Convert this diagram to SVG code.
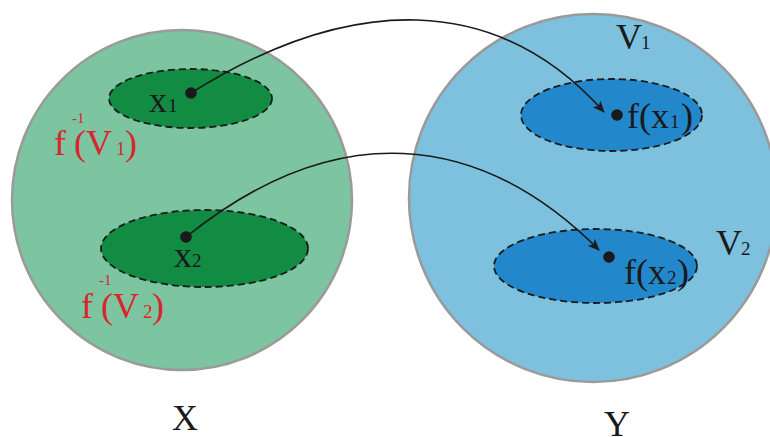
<svg xmlns="http://www.w3.org/2000/svg" width="770" height="437" viewBox="0 0 770 437">
<defs>
<style>
.big{stroke:#9a9a9a;stroke-width:2.5}
.sub{stroke:#1a1a1a;stroke-width:1.8;stroke-dasharray:7 4}
.t{font-family:"Liberation Serif","Times New Roman",serif;font-size:36px;fill:#1a1a1a}
.r{fill:#d9262c}
.s{font-size:19px}
.sup{font-size:15px}
.dot{fill:#1a1a1a}
.conn{fill:none;stroke:#1a1a1a;stroke-width:1.6}
</style>
<marker id="ah" viewBox="0 0 12 10" refX="11" refY="5" markerWidth="12" markerHeight="10" markerUnits="userSpaceOnUse" orient="auto">
<path d="M0,0 L12,5 L0,10 L3,5 z" fill="#1a1a1a"/>
</marker>
</defs>
<g id="setX">
<circle class="big" cx="182" cy="200" r="170" fill="#7dc4a0"/>
<text class="t" x="172" y="430">X</text>
</g>
<g id="setY">
<circle class="big" cx="593" cy="198" r="184" fill="#7ec1df"/>
<text class="t" x="604" y="436">Y</text>
</g>
<g id="preimageV1">
<ellipse class="sub" cx="190.5" cy="98.5" rx="81.5" ry="29.5" fill="#128b43"/>
<text class="t r" x="54" y="155">f</text>
<text class="t r sup" x="72" y="123">-1</text>
<text class="t r" y="155"><tspan x="74">(V</tspan><tspan class="s" x="116">1</tspan><tspan x="125">)</tspan></text>
</g>
<g id="preimageV2">
<ellipse class="sub" cx="204.5" cy="248.5" rx="103.5" ry="38.5" fill="#128b43"/>
<text class="t r" x="81" y="318">f</text>
<text class="t r sup" x="99" y="285">-1</text>
<text class="t r" y="318"><tspan x="101">(V</tspan><tspan class="s" x="143">2</tspan><tspan x="152">)</tspan></text>
</g>
<g id="V1">
<ellipse class="sub" cx="611.5" cy="115" rx="90.5" ry="36" fill="#2387cb"/>
<text class="t" y="49"><tspan x="616">V</tspan><tspan class="s" x="641">1</tspan></text>
</g>
<g id="V2">
<ellipse class="sub" cx="595.5" cy="266" rx="101.5" ry="37" fill="#2387cb"/>
<text class="t" y="255"><tspan x="716">V</tspan><tspan class="s" x="741">2</tspan></text>
</g>
<g id="x1">
<circle class="dot" cx="191" cy="93" r="5.8"/>
<text class="t" y="112"><tspan x="149">x</tspan><tspan class="s" x="168">1</tspan></text>
</g>
<g id="x2">
<circle class="dot" cx="186" cy="237" r="5.8"/>
<text class="t" y="267"><tspan x="174">x</tspan><tspan class="s" x="192">2</tspan></text>
</g>
<g id="fx1">
<circle class="dot" cx="617" cy="115" r="5.8"/>
<text class="t" y="128"><tspan x="627">f(x</tspan><tspan class="s" x="670">1</tspan><tspan x="681">)</tspan></text>
</g>
<g id="fx2">
<circle class="dot" cx="609" cy="257" r="5.8"/>
<text class="t" y="284"><tspan x="624">f(x</tspan><tspan class="s" x="667">2</tspan><tspan x="677">)</tspan></text>
</g>
<g id="connectors">
<path class="conn" d="M191,93 C351,-7 497,-8 604,112" marker-end="url(#ah)"/>
<path class="conn" d="M186,237 C335,117 479,130 599,250" marker-end="url(#ah)"/>
</g>
</svg>
